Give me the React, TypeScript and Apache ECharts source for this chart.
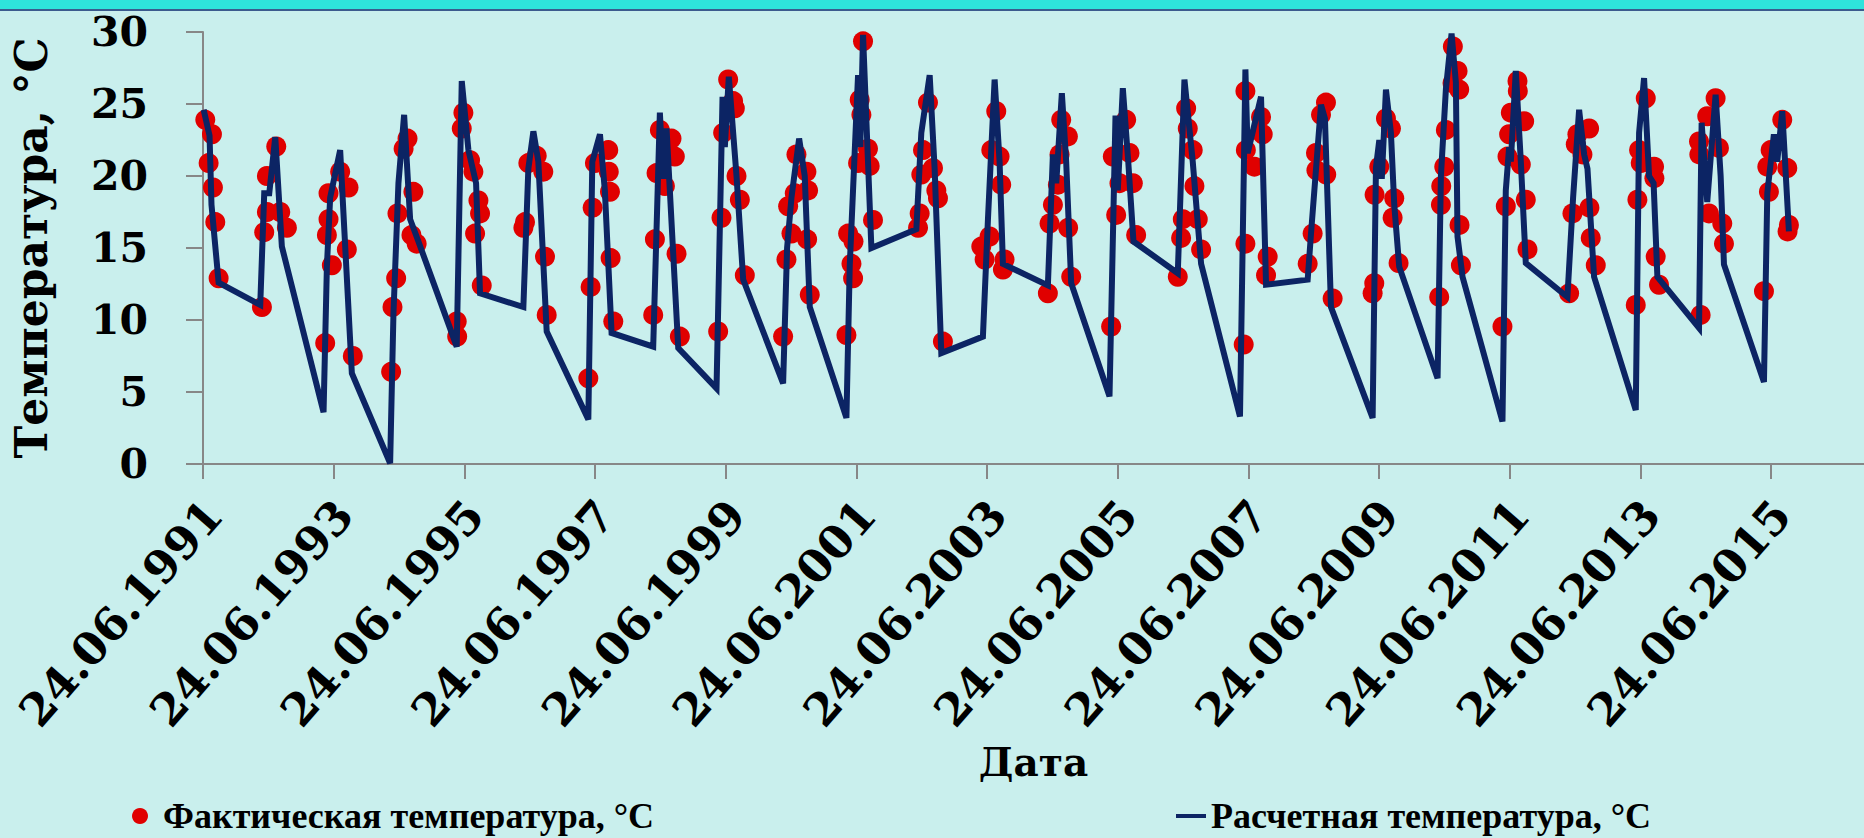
import React, { useEffect, useRef } from 'react';
import * as echarts from 'echarts';

// x = years elapsed since 24.06.1991 (first observation date)
const BASE_YEAR = 1991;
const BASE_DAY = '24.06';
const X_MAX = 25.42;
const Y_TICKS = [0, 5, 10, 15, 20, 25, 30];

const FACT_NAME = 'Фактическая температура, °C';
const CALC_NAME = 'Расчетная температура, °C';
const X_TITLE = 'Дата';
const Y_TITLE = 'Температура, °C';

// Фактическая температура: dates (years since 24.06.1991) and values
const factT = [
  0.035, 0.086, 0.137, 0.152, 0.188, 0.239,
  0.902, 0.937, 0.978, 0.978, 1.121, 1.182, 1.284,
  1.870, 1.896, 1.921, 1.921, 1.972, 2.099, 2.201, 2.227, 2.293,
  2.879, 2.900, 2.956, 2.976, 3.07, 3.13, 3.19, 3.22, 3.27,
  3.883, 3.890, 3.960, 3.985, 4.087, 4.138, 4.164, 4.215, 4.240, 4.266,
  4.903, 4.928, 4.979, 5.107, 5.208, 5.234, 5.260,
  5.897, 5.932, 5.963, 5.998, 6.202, 6.210, 6.228, 6.238, 6.279,
  6.890, 6.916, 6.941, 6.992, 7.069, 7.170, 7.221, 7.247, 7.298,
  7.884, 7.935, 7.960, 8.037, 8.113, 8.139, 8.165, 8.216, 8.292,
  8.878, 8.929, 8.955, 9.006, 9.057, 9.082, 9.235, 9.245, 9.260, 9.286,
  9.847, 9.873, 9.924, 9.949, 9.955, 10.025, 10.05, 10.076, 10.101, 10.177, 10.203, 10.254,
  10.943, 10.968, 10.993, 11.019, 11.095, 11.172, 11.223, 11.248, 11.324,
  11.911, 11.962, 12.038, 12.064, 12.140, 12.191, 12.216, 12.242, 12.267,
  12.930, 12.956, 13.007, 13.083, 13.109, 13.134, 13.236, 13.240, 13.287,
  13.898, 13.924, 13.975, 14.026, 14.128, 14.179, 14.230, 14.281,
  14.918, 14.969, 14.995, 15.046, 15.071, 15.147, 15.173, 15.224, 15.275,
  15.927, 15.953, 15.953, 15.960, 16.09, 16.192, 16.218, 16.269, 16.294,
  16.906, 16.982, 17.033, 17.040, 17.110, 17.186, 17.190, 17.288,
  17.900, 17.925, 17.930, 18.002, 18.104, 18.180, 18.206, 18.231, 18.297,
  18.919, 18.945, 18.950, 18.996, 19.021, 19.123, 19.128, 19.200, 19.225, 19.230, 19.251,
  19.887, 19.938, 19.964, 19.989, 20.015, 20.117, 20.122, 20.168, 20.219, 20.244, 20.270,
  20.907, 20.958, 21.009, 21.034, 21.111, 21.213, 21.218, 21.238, 21.315,
  21.927, 21.952, 21.978, 22.003, 22.080, 22.207, 22.212, 22.232, 22.283,
  22.895, 22.900, 22.920, 23.021, 23.047, 23.149, 23.200, 23.251, 23.277,
  23.889, 23.940, 23.965, 23.991, 24.169, 24.246, 24.250, 24.271,
];
const factV = [
  23.9, 20.9, 22.9, 19.2, 16.8, 12.9,
  10.9, 16.1, 17.5, 20.0, 22.05, 17.5, 16.4,
  8.4, 15.9, 17.0, 18.8, 13.8, 20.3, 14.9, 19.2, 7.5,
  6.4, 10.9, 12.9, 17.4, 21.9, 22.6, 15.9, 18.9, 15.3,
  9.9, 8.85, 23.3, 24.4, 21.1, 20.3, 16.0, 18.3, 17.4, 12.4,
  16.4, 16.8, 20.9, 21.4, 20.3, 14.4, 10.35,
  5.95, 12.3, 17.8, 20.9, 21.8, 20.3, 18.9, 14.3, 9.9,
  10.35, 15.6, 20.2, 23.2, 19.3, 22.6, 21.35, 14.6, 8.85,
  9.2, 17.1, 23.0, 26.7, 25.2, 24.7, 20.0, 18.35, 13.1,
  8.85, 14.2, 17.9, 16.0, 18.8, 21.5, 20.3, 15.6, 19.0, 11.75,
  8.95, 16.0, 13.9, 12.9, 15.45, 20.9, 25.3, 24.25, 29.35, 21.9, 20.7, 16.95,
  16.4, 17.4, 20.1, 21.8, 25.1, 20.55, 19.0, 18.45, 8.5,
  15.1, 14.2, 15.8, 21.8, 24.5, 21.35, 19.4, 13.5, 14.2,
  11.85, 16.7, 18.0, 19.4, 21.5, 23.9, 22.75, 16.4, 13.0,
  9.55, 21.35, 17.3, 19.5, 23.9, 21.6, 19.5, 15.9,
  13.0, 15.7, 17.0, 24.7, 23.3, 21.8, 19.3, 17.0, 14.9,
  8.3, 15.3, 25.9, 21.8, 20.65, 24.1, 22.9, 13.1, 14.4,
  13.9, 16.0, 21.6, 20.4, 24.25, 25.1, 20.1, 11.5,
  11.85, 12.55, 18.7, 20.65, 24.0, 23.3, 17.1, 18.45, 13.95,
  11.6, 18.0, 19.3, 20.65, 23.2, 26.45, 29.0, 27.3, 26.0, 16.6, 13.8,
  9.55, 17.9, 21.35, 22.9, 24.4, 26.6, 25.9, 20.8, 23.8, 18.35, 14.9,
  11.85, 17.4, 22.2, 22.9, 21.5, 23.3, 17.8, 15.7, 13.8,
  11.05, 18.35, 21.8, 20.9, 25.4, 20.65, 19.85, 14.4, 12.45,
  22.4, 21.5, 10.35, 24.15, 17.4, 25.4, 21.95, 16.7, 15.3,
  12.0, 20.65, 18.9, 21.8, 23.9, 20.55, 16.15, 16.6,
];

// Расчетная температура: dates (years since 24.06.1991) and values
const calcT = [
  0.01, 0.10, 0.13, 0.239,
  0.876, 0.937, 1.014, 1.106, 1.207,
  1.845, 1.896, 1.946, 2.099, 2.278,
  2.864, 2.915, 2.991, 3.078, 3.17, 3.297,
  3.883, 3.960, 4.062, 4.179, 4.240,
  4.903, 4.979, 5.056, 5.132, 5.260,
  5.897, 5.958, 6.075, 6.15, 6.253,
  6.890, 6.992, 7.043, 7.094, 7.273,
  7.859, 7.951, 7.986, 8.047, 8.165, 8.267,
  8.878, 8.939, 9.006, 9.123, 9.209, 9.286,
  9.847, 9.898, 10.025, 10.06, 10.101, 10.229,
  10.917, 10.993, 11.121, 11.197, 11.299,
  11.936, 12.013, 12.115, 12.191, 12.242,
  12.930, 13.007, 13.058, 13.144, 13.21, 13.287,
  13.873, 13.965, 14.00, 14.077, 14.16, 14.240,
  14.918, 15.020, 15.147, 15.275,
  15.87, 15.953, 15.988, 16.192, 16.269,
  16.906, 16.957, 17.110, 17.17, 17.263,
  17.900, 17.951, 18.002, 18.04, 18.104, 18.18, 18.231, 18.307,
  18.894, 18.945, 19.021, 19.108, 19.174, 19.199, 19.276,
  19.887, 19.938, 19.989, 20.015, 20.091, 20.168, 20.244,
  20.881, 20.968, 21.060, 21.137, 21.188, 21.289,
  21.927, 21.978, 22.054, 22.131, 22.20, 22.258,
  22.895, 22.935, 23.021, 23.149, 23.226, 23.277,
  23.889, 23.940, 24.041, 24.092, 24.169, 24.271,
];
const calcV = [
  24.6, 22.8, 18.0, 12.6,
  11.05, 18.8, 18.8, 22.7, 15.1,
  3.6, 13.7, 18.5, 21.8, 6.3,
  0.05, 10.5, 19.5, 24.25, 17.0, 15.45,
  8.15, 26.6, 21.8, 19.5, 11.85,
  10.9, 20.5, 23.1, 21.0, 9.2,
  3.1, 21.0, 22.9, 19.0, 9.1,
  8.15, 24.4, 19.8, 23.3, 8.05,
  5.25, 25.5, 22.0, 26.9, 20.0, 12.8,
  5.6, 15.0, 18.5, 22.6, 20.0, 10.9,
  3.2, 13.8, 27.0, 22.0, 29.8, 15.0,
  16.3, 23.0, 27.0, 20.5, 7.7,
  8.85, 17.0, 26.7, 21.0, 13.9,
  12.4, 21.5, 19.5, 25.75, 21.0, 12.55,
  4.7, 24.2, 19.0, 26.1, 21.0, 15.45,
  13.25, 26.7, 21.0, 13.9,
  3.3, 27.4, 21.6, 25.5, 12.45,
  12.8, 16.0, 24.95, 24.0, 10.9,
  3.2, 20.6, 22.5, 19.8, 26.0, 23.0, 18.0, 13.7,
  5.95, 20.0, 26.0, 29.9, 26.5, 15.8, 13.0,
  2.95, 19.0, 22.0, 21.0, 27.3, 21.0, 13.95,
  11.6, 18.5, 24.6, 21.5, 20.5, 13.0,
  3.75, 23.0, 26.8, 20.0, 19.5, 13.0,
  9.45, 23.7, 18.2, 25.65, 20.0, 13.85,
  5.7, 18.8, 22.9, 21.0, 24.5, 16.15,
];

const W = 1864;
const H = 838;
const FONT = '"DejaVu Serif", serif';
const LEGEND_FONT = '"Liberation Serif", serif';

export default function App() {
  const ref = useRef<HTMLDivElement>(null);

  useEffect(() => {
    if (!ref.current) return;
    const chart = echarts.init(ref.current, null, { renderer: 'svg' });
    const factData = factT.map((t, i) => [t, factV[i]]);
    const calcData = calcT.map((t, i) => [t, calcV[i]]);
    const axisColor = '#878787';

    chart.setOption({
      animation: false,
      backgroundColor: '#c9efed',
      graphic: [
        {
          type: 'rect',
          silent: true,
          shape: { x: 0, y: 0, width: W, height: 10 },
          style: { fill: '#2ee3dc' },
        },
        {
          type: 'line',
          silent: true,
          shape: { x1: 0, y1: 10, x2: W, y2: 10 },
          style: { stroke: '#3b5b8e', lineWidth: 2 },
        },
      ],
      grid: { left: 203, top: 32, right: 0, bottom: 374, outerBoundsMode: 'none' },
      legend: [
        {
          data: [{ name: FACT_NAME, icon: 'circle' }],
          left: 127,
          top: 793,
          itemWidth: 36,
          itemHeight: 16,
          textStyle: { fontFamily: LEGEND_FONT, fontWeight: 'bold', fontSize: 36, color: '#000' },
        },
        {
          data: [{ name: CALC_NAME, icon: 'rect' }],
          left: 1171,
          top: 793,
          itemWidth: 30,
          itemHeight: 4,
          textStyle: { fontFamily: LEGEND_FONT, fontWeight: 'bold', fontSize: 36, color: '#000' },
        },
      ],
      xAxis: {
        type: 'value',
        min: 0,
        max: X_MAX,
        interval: 2,
        name: X_TITLE,
        nameLocation: 'middle',
        nameGap: 278,
        nameTextStyle: { fontFamily: FONT, fontWeight: 'bold', fontSize: 39, color: '#000' },
        axisLine: { show: true, onZero: false, lineStyle: { color: axisColor, width: 2 } },
        axisTick: { show: true, length: 15, lineStyle: { color: axisColor, width: 2 } },
        splitLine: { show: false },
        axisLabel: {
          rotate: 49,
          margin: 55,
          padding: [0, -16, 0, 0],
          showMaxLabel: false,
          fontFamily: FONT,
          fontWeight: 'bold',
          fontSize: 45,
          color: '#000',
          formatter: (v: number) => {
            const r = Math.round(v);
            if (Math.abs(v - r) > 1e-6 || r % 2 !== 0) return '';
            return `${BASE_DAY}.${BASE_YEAR + r}`;
          },
        },
      },
      yAxis: {
        type: 'value',
        min: Y_TICKS[0],
        max: Y_TICKS[Y_TICKS.length - 1],
        interval: Y_TICKS[1] - Y_TICKS[0],
        name: Y_TITLE,
        nameLocation: 'middle',
        nameGap: 150,
        nameRotate: 90,
        nameTextStyle: { fontFamily: FONT, fontWeight: 'bold', fontSize: 44, color: '#000' },
        axisLine: { show: true, lineStyle: { color: axisColor, width: 2 } },
        axisTick: { show: true, length: 17, lineStyle: { color: axisColor, width: 2 } },
        splitLine: { show: false },
        axisLabel: {
          margin: 55,
          fontFamily: FONT,
          fontWeight: 'bold',
          fontSize: 41,
          color: '#000',
        },
      },
      series: [
        {
          name: FACT_NAME,
          type: 'scatter',
          data: factData,
          symbol: 'circle',
          symbolSize: 20,
          itemStyle: { color: '#e00000', opacity: 1 },
          z: 2,
        },
        {
          name: CALC_NAME,
          type: 'line',
          data: calcData,
          showSymbol: false,
          symbol: 'none',
          lineStyle: { color: '#0c2464', width: 6, join: 'miter', miterLimit: 4 },
          itemStyle: { color: '#0c2464' },
          z: 3,
        },
      ],
    });

    return () => chart.dispose();
  }, []);

  return (
    <div
      ref={ref}
      style={{ position: 'fixed', left: 0, top: 0, width: W, height: H }}
    />
  );
}
